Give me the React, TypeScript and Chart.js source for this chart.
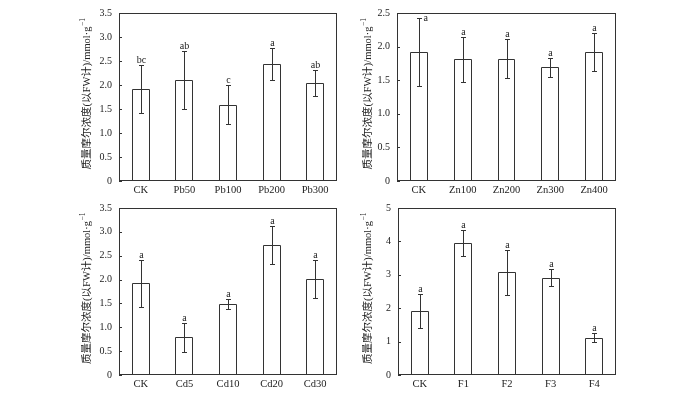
import { useEffect, useRef } from 'react';
import { Chart, registerables } from 'chart.js';
Chart.register(...registerables);

// ---- data ----
const pbCategories = ['CK', 'Pb50', 'Pb100', 'Pb200', 'Pb300'];
const pbMeans = [1.92, 2.1, 1.59, 2.44, 2.05];
const pbErrors = [0.5, 0.6, 0.41, 0.34, 0.27];
const pbLetters = ['bc', 'ab', 'c', 'a', 'ab'];

const znCategories = ['CK', 'Zn100', 'Zn200', 'Zn300', 'Zn400'];
const znMeans = [1.92, 1.81, 1.82, 1.69, 1.92];
const znErrors = [0.5, 0.33, 0.29, 0.14, 0.28];
const znLetters = ['a', 'a', 'a', 'a', 'a'];

const cdCategories = ['CK', 'Cd5', 'Cd10', 'Cd20', 'Cd30'];
const cdMeans = [1.92, 0.79, 1.49, 2.72, 2.01];
const cdErrors = [0.5, 0.31, 0.11, 0.4, 0.4];
const cdLetters = ['a', 'a', 'a', 'a', 'a'];

const fCategories = ['CK', 'F1', 'F2', 'F3', 'F4'];
const fMeans = [1.92, 3.94, 3.07, 2.91, 1.12];
const fErrors = [0.5, 0.39, 0.68, 0.26, 0.135];
const fLetters = ['a', 'a', 'a', 'a', 'a'];

const yTitleMain = '质量摩尔浓度(以FW计)/mmol·g';
const yTitleSup = '−1';

const yMaxes = [3.5, 2.5, 3.5, 5];
const ySteps = [0.5, 0.5, 0.5, 1];

// ---- layout ----
const panels = [
  { cats: pbCategories, means: pbMeans, errors: pbErrors, letters: pbLetters, box: { left: 60, top: 0, w: 290, h: 197 }, area: { left: 59, top: 7, right: 277, bottom: 181 }, titleX: 27 },
  { cats: znCategories, means: znMeans, errors: znErrors, letters: znLetters, box: { left: 340, top: 0, w: 290, h: 197 }, area: { left: 57, top: 7, right: 276, bottom: 181 }, titleX: 28 },
  { cats: cdCategories, means: cdMeans, errors: cdErrors, letters: cdLetters, box: { left: 60, top: 195, w: 290, h: 197 }, area: { left: 59, top: 7, right: 277, bottom: 180 }, titleX: 27 },
  { cats: fCategories, means: fMeans, errors: fErrors, letters: fLetters, box: { left: 340, top: 195, w: 290, h: 197 }, area: { left: 58, top: 7, right: 276, bottom: 180 }, titleX: 28 },
];

const SERIF = '"Liberation Serif", "Times New Roman", "Noto Sans CJK SC", serif';
const TEXT = '#222';
const LINE = '#333';

const overlay = {
  id: 'overlay',
  afterDatasetsDraw(chart: any, _args: any, opts: any) {
    const { ctx, chartArea: a } = chart;
    const y = chart.scales.y;
    const meta = chart.getDatasetMeta(0);
    ctx.save();
    ctx.strokeStyle = LINE;
    ctx.lineWidth = 1;
    meta.data.forEach((bar: any, i: number) => {
      // crisp outline of the library's bar element
      const props = bar.getProps(['x', 'y', 'base', 'width']);
      const l = Math.round(props.x - props.width / 2) + 0.5;
      const r = Math.round(props.x + props.width / 2) - 0.5;
      const t = Math.round(props.y) + 0.5;
      const b = Math.round(props.base);
      ctx.beginPath();
      ctx.moveTo(l, b);
      ctx.lineTo(l, t);
      ctx.lineTo(r, t);
      ctx.lineTo(r, b);
      ctx.stroke();

      const m = opts.means[i];
      const e = opts.errors[i];
      const cx = Math.round(props.x) + 0.5;
      const yt = Math.round(y.getPixelForValue(m + e)) + 0.5;
      const yb = Math.round(y.getPixelForValue(m - e)) + 0.5;
      ctx.beginPath();
      ctx.moveTo(cx, yt);
      ctx.lineTo(cx, yb);
      ctx.moveTo(cx - 2.5, yt);
      ctx.lineTo(cx + 2.5, yt);
      ctx.moveTo(cx - 2.5, yb);
      ctx.lineTo(cx + 2.5, yb);
      ctx.stroke();
      ctx.font = `10px ${SERIF}`;
      ctx.fillStyle = TEXT;
      const letter = opts.letters[i];
      if (yt - 11 < a.top) {
        ctx.textAlign = 'left';
        ctx.textBaseline = 'middle';
        ctx.fillText(letter, cx + 4, yt);
      } else {
        ctx.textAlign = 'center';
        ctx.textBaseline = 'alphabetic';
        ctx.fillText(letter, cx, yt - 3);
      }
    });
    // frame
    ctx.strokeStyle = LINE;
    ctx.strokeRect(Math.round(a.left) + 0.5, Math.round(a.top) + 0.5, Math.round(a.right - a.left) - 1, Math.round(a.bottom - a.top) - 1);
    // inward ticks
    ctx.beginPath();
    y.ticks.forEach((_t: any, i: number) => {
      const py = Math.round(y.getPixelForTick(i)) + 0.5;
      ctx.moveTo(a.left, py);
      ctx.lineTo(a.left + 3, py);
    });
    ctx.stroke();
    // y title
    ctx.translate(opts.titleX, (a.top + a.bottom) / 2 - 3);
    ctx.rotate(-Math.PI / 2);
    ctx.fillStyle = TEXT;
    ctx.textBaseline = 'middle';
    ctx.textAlign = 'left';
    const mainFont = `10.5px ${SERIF}`;
    const supFont = `7.5px ${SERIF}`;
    ctx.font = mainFont;
    const wMain = ctx.measureText(yTitleMain).width;
    ctx.font = supFont;
    const wSup = ctx.measureText(yTitleSup).width;
    const start = -(wMain + wSup) / 2;
    ctx.font = mainFont;
    ctx.fillText(yTitleMain, start, 0);
    ctx.font = supFont;
    ctx.fillText(yTitleSup, start + wMain + 0.5, -4);
    ctx.restore();
  },
};

function Panel({ idx }: { idx: number }) {
  const ref = useRef<HTMLCanvasElement | null>(null);
  const p = panels[idx];
  useEffect(() => {
    if (!ref.current) return;
    const step = ySteps[idx];
    const chart = new Chart(ref.current, {
      type: 'bar',
      data: {
        labels: p.cats,
        datasets: [
          {
            data: p.means,
            backgroundColor: '#ffffff',
            borderWidth: 0,
            categoryPercentage: 1,
            barPercentage: 0.41,
          },
        ],
      },
      plugins: [overlay],
      options: {
        animation: false,
        responsive: false,
        maintainAspectRatio: false,
        layout: { padding: { left: 0, top: p.area.top, right: p.box.w - p.area.right, bottom: 0 } },
        plugins: {
          legend: { display: false },
          tooltip: { enabled: false },
          overlay: { means: p.means, errors: p.errors, letters: p.letters, titleX: p.titleX },
        } as any,
        scales: {
          x: {
            grid: { display: false, drawTicks: false },
            border: { display: false },
            ticks: { color: TEXT, font: { family: SERIF, size: 10.5 }, padding: 3, maxRotation: 0, autoSkip: false },
            afterFit: (s: any) => { s.height = p.box.h - p.area.bottom; },
          },
          y: {
            min: 0,
            max: yMaxes[idx],
            grid: { display: false, drawTicks: false },
            border: { display: false },
            ticks: {
              stepSize: step,
              color: TEXT,
              font: { family: SERIF, size: 10 },
              padding: 7,
              callback: (v: any) => (v === 0 ? '0' : step < 1 ? Number(v).toFixed(1) : String(v)),
            },
            afterFit: (s: any) => { s.width = p.area.left; },
          },
        },
      },
    });
    return () => chart.destroy();
  }, [idx]);
  return (
    <canvas
      ref={ref}
      width={p.box.w}
      height={p.box.h}
      style={{ position: 'absolute', left: p.box.left, top: p.box.top, width: p.box.w, height: p.box.h }}
    />
  );
}

export default function App() {
  useEffect(() => {
    document.body.style.margin = '0';
  }, []);
  return (
    <div style={{ position: 'relative', width: 700, height: 395, background: '#fff' }}>
      {panels.map((_p, i) => (
        <Panel key={i} idx={i} />
      ))}
    </div>
  );
}
